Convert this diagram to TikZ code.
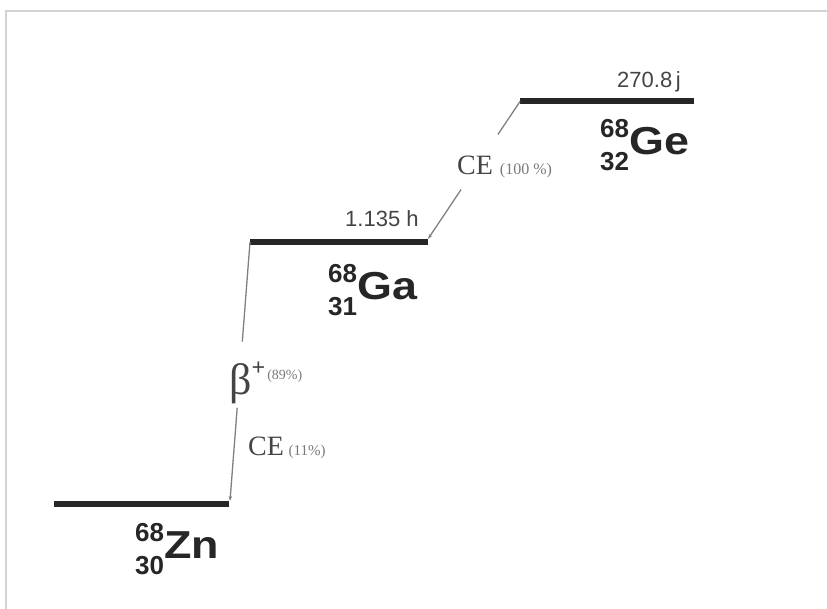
\documentclass[tikz,border=0pt]{standalone}
\usepackage{fontspec}
\setmainfont{Liberation Serif}
\setsansfont{Liberation Sans}
\usetikzlibrary{arrows.meta}
\definecolor{lvlcol}{HTML}{262626}
\definecolor{conncol}{HTML}{808080}
\definecolor{labcol}{HTML}{444444}
\definecolor{pctcol}{HTML}{7A7A7A}
\definecolor{framecol}{HTML}{D2D2D2}
\newcommand\nuclide[3]{%
  \makebox[0pt][l]{\raisebox{-16pt}{\fontsize{26}{26}\selectfont #2}}%
  \raisebox{17pt}{\fontsize{26}{26}\selectfont #1}%
  \scalebox{1.15}[1]{\fontsize{39}{39}\selectfont #3}}
\begin{document}
\begin{tikzpicture}[x=1pt,y=-1pt,
  level/.style={line width=6pt,color=lvlcol},
  conn/.style={line width=1.3pt,color=conncol},
  tipped/.style={-{Stealth[length=5pt,width=3.5pt]}},
  nuc/.style={anchor=base west,inner sep=0pt,font=\sffamily\bfseries,text=lvlcol},
  halflife/.style={anchor=base west,inner sep=0pt,font=\sffamily\fontsize{22}{22}\selectfont,text=labcol},
  decay/.style={anchor=base west,inner sep=0pt,text=labcol},
  framestyle/.style={line width=2.5pt,color=framecol}]
\useasboundingbox (0,0) rectangle (827,609);
% frame
\draw[framestyle] (6,609) -- (6,11) -- (827,11);
% level end points
\coordinate (geL) at (520,101.5);
\coordinate (geR) at (694,101.5);
\coordinate (gaL) at (250,242);
\coordinate (gaR) at (428,242);
\coordinate (znL) at (54,504);
\coordinate (znR) at (229,504);
% levels
\draw[level] (geL) -- (geR);
\draw[level] (gaL) -- (gaR);
\draw[level] (znL) -- (znR);
% connectors (interrupted by labels)
\path (geL) -- (428,239) coordinate[pos=0.24] (c1a) coordinate[pos=0.64] (c1b) coordinate[pos=1] (gaTop);
\draw[conn] (geL) -- (c1a);
\draw[conn,tipped] (c1b) -- (gaTop);
\path (gaL) -- (230,501) coordinate[pos=0.385] (c2a) coordinate[pos=0.64] (c2b) coordinate[pos=1] (znTop);
\draw[conn] (gaL) -- (c2a);
\draw[conn,tipped] (c2b) -- (znTop);
% half-lives
\node[halflife] (geT) at (617,88) {270.8\,j};
\node[halflife] (gaT) at (345,227) {1.135 h};
% nuclides
\node[nuc] (ge) at (600,155) {\nuclide{68}{32}{Ge}};
\node[nuc] (ga) at (328,300) {\nuclide{68}{31}{Ga}};
\node[nuc] (zn) at (135,558) {\nuclide{68}{30}{Zn}};
% decay labels
\node[decay] (ce1) at (457,175) {\fontsize{28}{28}\selectfont CE {\fontsize{16}{16}\selectfont\color{pctcol}(100 \%)}};
\node[decay] (beta) at (229,394) {\fontsize{44}{44}\selectfont β\raisebox{18pt}{\fontsize{24}{24}\selectfont\bfseries +}\hspace{2pt}\raisebox{14pt}{\fontsize{14}{14}\selectfont\color{pctcol}(89\%)}};
\node[decay] (ce2) at (248,455) {\fontsize{28}{28}\selectfont CE\,{\fontsize{15}{15}\selectfont\color{pctcol}(11\%)}};
\end{tikzpicture}
\end{document}
